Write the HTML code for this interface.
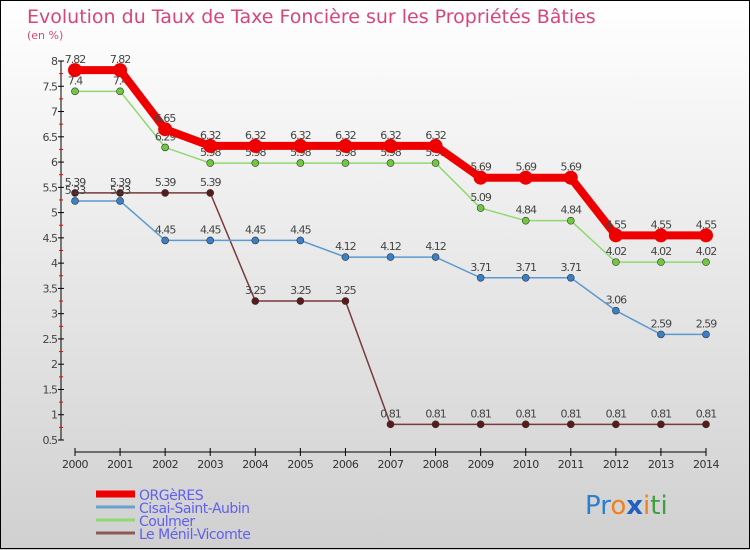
<!DOCTYPE html>
<html><head><meta charset="utf-8"><style>
body{margin:0;}
#wrap{width:750px;height:550px;position:relative;background:linear-gradient(#ffffff,#d0d0d0);font-family:"DejaVu Sans","Liberation Sans",sans-serif;overflow:hidden}
svg text{font-family:"DejaVu Sans","Liberation Sans",sans-serif}
</style></head><body>
<div id="wrap">
<svg id="chart" width="750" height="550">
<rect x="0.5" y="0.5" width="749" height="548" fill="none" stroke="#000"/>
<text x="27" y="23" font-size="19" fill="#d8457a">Evolution du Taux de Taxe Foncière sur les Propriétés Bâties</text>
<text x="27" y="39" font-size="11" fill="#d8457a">(en %)</text>
<g id="axes"></g><g id="series"></g><g id="legend"></g>
<text x="585" y="514" font-size="26"><tspan fill="#2a7fd0">Pr</tspan><tspan fill="#f08020">o</tspan><tspan fill="#2060c0" font-weight="bold">x</tspan><tspan fill="#f08020">i</tspan><tspan fill="#40a040">ti</tspan></text>
</svg></div>
<script>
const years=[2000,2001,2002,2003,2004,2005,2006,2007,2008,2009,2010,2011,2012,2013,2014];
const yTicks=[0.5,1,1.5,2,2.5,3,3.5,4,4.5,5,5.5,6,6.5,7,7.5,8];
const seriesNames=["ORGèRES","Cisai-Saint-Aubin","Coulmer","Le Ménil-Vicomte"];
const orgeres=[7.82,7.82,6.65,6.32,6.32,6.32,6.32,6.32,6.32,5.69,5.69,5.69,4.55,4.55,4.55];
const cisai=[5.23,5.23,4.45,4.45,4.45,4.45,4.12,4.12,4.12,3.71,3.71,3.71,3.06,2.59,2.59];
const coulmer=[7.4,7.4,6.29,5.98,5.98,5.98,5.98,5.98,5.98,5.09,4.84,4.84,4.02,4.02,4.02];
const menil=[5.39,5.39,5.39,5.39,3.25,3.25,3.25,0.81,0.81,0.81,0.81,0.81,0.81,0.81,0.81];
const NS="http://www.w3.org/2000/svg";
const xS=i=>75+i*(706-75)/(years.length-1);
const yS=v=>61+(8-v)*(440-61)/7.5;
function mk(t,a,p){const e=document.createElementNS(NS,t);for(const k in a)e.setAttribute(k,a[k]);p.appendChild(e);return e;}
const ax=document.getElementById('axes');
let yl=mk('line',{x1:61,y1:61,x2:61,y2:440,stroke:'#000'},ax);


yTicks.forEach(v=>{
 const t=mk('line',{x1:58,x2:64,y1:yS(v),y2:yS(v),stroke:'#000'},ax);
 
 
 if(v>0.5){
 const m=mk('line',{x1:59,x2:63,y1:yS(v-0.25),y2:yS(v-0.25),stroke:'#f00'},ax);
 
 
 }
 const l=mk('text',{x:57,y:yS(v)+4,'font-size':11,fill:'#444','text-anchor':'end','letter-spacing':'-1'},ax);
 l.textContent=String(v);
 
 
});
let xl=mk('line',{x1:75,y1:452,x2:706,y2:452,stroke:'#000'},ax);


years.forEach((y,i)=>{
 const t=mk('line',{x1:xS(i),x2:xS(i),y1:448,y2:456,stroke:'#000'},ax);
 
 
 const l=mk('text',{x:xS(i),y:468,'font-size':11,fill:'#333','text-anchor':'middle','letter-spacing':'-0.5'},ax);
 l.textContent=y;
 
 
});
const sg=document.getElementById('series');
const defs=[[menil,'#7a3a3a','#5a1a1a',1.5,3.5],[cisai,'#5a9ad0','#3a80c8',1.5,3.5],[coulmer,'#90d870','#70c840',1.5,3.5],[orgeres,'#ee0000','#ee0000',8,7]];
const keys=['le-menil-vicomte','cisai-saint-aubin','coulmer','orgeres'];
defs.forEach((d,k)=>{
 const [data,col,pc,w,r]=d;
 const g=mk('g',{},sg);
 
 
 const pl=mk('polyline',{points:data.map((v,i)=>xS(i)+','+yS(v)).join(' '),fill:'none',stroke:col,'stroke-width':w},g);
 
 
 data.forEach((v,i)=>{
  const c=mk('circle',{cx:xS(i),cy:yS(v),r:r,fill:pc,stroke:'#333','stroke-width':k==3?0:0.6},g);
  
  
  const t=mk('text',{x:xS(i),y:yS(v)-7,'font-size':11,fill:'#444','text-anchor':'middle','letter-spacing':'-1'},g);
  t.textContent=String(v);
  
  
 });
});
const lg=document.getElementById('legend');
const lcols=['#ee0000','#6aa0cc','#90d870','#8a5a5a'];
seriesNames.forEach((n,i)=>{
 const y=494+i*13;
 const g=mk('g',{},lg);
 
 
 mk('line',{x1:96,x2:135,y1:y,y2:y,stroke:lcols[i],'stroke-width':i==0?7:3},g);
 const t=mk('text',{x:139,y:y+6,'font-size':14,fill:'#6060f0','letter-spacing':'-0.5'},g);
 t.textContent=n;
 
 
});
</script>
</body></html>
